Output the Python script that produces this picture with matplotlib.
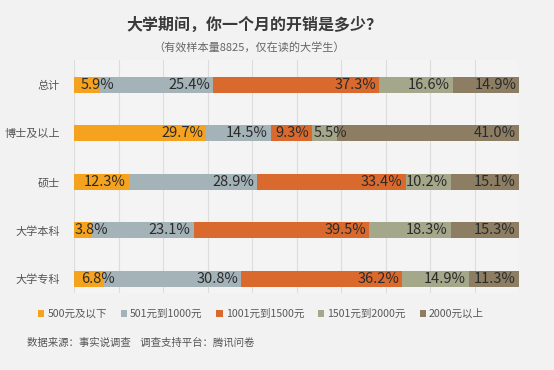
import matplotlib
matplotlib.use("Agg")
import matplotlib.pyplot as plt
from matplotlib.patches import Patch

plt.rcParams['font.family'] = ['Noto Sans CJK SC', 'DejaVu Sans']

categories = ["总计", "博士及以上", "硕士", "大学本科", "大学专科"]
series_names = ["500元及以下", "501元到1000元", "1001元到1500元", "1501元到2000元", "2000元以上"]
s_500 = [5.9, 29.7, 12.3, 3.8, 6.8]
s_1000 = [25.4, 14.5, 28.9, 23.1, 30.8]
s_1500 = [37.3, 9.3, 33.4, 39.5, 36.2]
s_2000 = [16.6, 5.5, 10.2, 18.3, 14.9]
s_over = [14.9, 41.0, 15.1, 15.3, 11.3]
series = [s_500, s_1000, s_1500, s_2000, s_over]
colors = ["#F5A31F", "#A4B3B8", "#D9692C", "#A5A78A", "#8C7D63"]

title = "大学期间，你一个月的开销是多少？"
subtitle = "（有效样本量8825，仅在读的大学生）"
source = "数据来源：事实说调查    调查支持平台：腾讯问卷"

W, H = 554, 370
fig = plt.figure(figsize=(W / 100, H / 100), dpi=100)
fig.patch.set_facecolor("#F2F2F2")
ax = fig.add_axes([74 / W, 1 - 293 / H, 445 / W, 233 / H])
ax.set_facecolor("#F4F4F4")

ypos = list(range(len(categories)))
px_per_unit = 445 / 100.0
left = [0.0] * len(categories)
for vals, col in zip(series, colors):
    ax.barh(ypos, vals, left=left, height=0.33, color=col, zorder=2)
    for i, v in enumerate(vals):
        lab = f"{v:.1f}%"
        w_units = (len(lab) * 8.0) / px_per_unit
        end = left[i] + v
        if v >= w_units + 0.5:
            ax.text(end - 0.7, i, lab, ha="right", va="center",
                    fontsize=10.5, color="#2B2B2B", zorder=3)
        else:
            x0 = max(left[i] + v / 2 - w_units / 2, 0.2) if left[i] == 0 else left[i] + 0.3
            if left[i] == 0 and v > 5:
                x0 = 1.5
            ax.text(x0, i, lab, ha="left", va="center",
                    fontsize=10.5, color="#2B2B2B", zorder=3)
    left = [l + v for l, v in zip(left, vals)]

ax.set_xlim(0, 100)
ax.set_ylim(4.29, -0.515)
ax.set_xticks(range(0, 101, 10))
ax.xaxis.grid(True, color="#DDDDDD", linewidth=0.8, zorder=0)
ax.tick_params(axis="x", length=0, labelbottom=False)
ax.tick_params(axis="y", length=0, pad=10)
ax.set_yticks(ypos)
ax.set_yticklabels(categories, fontsize=8, color="#555555")
for s in ax.spines.values():
    s.set_visible(False)

fig.text(0.46, 1 - 25 / H, title, ha="center", va="center",
         fontsize=11.5, fontweight="bold", color="#3A3A3A")
fig.text(0.449, 1 - 47 / H, subtitle, ha="center", va="center",
         fontsize=8, color="#666666")

handles = [Patch(facecolor=c, edgecolor="none") for c in colors]
leg = fig.legend(handles, series_names, loc="center", ncol=5,
                 bbox_to_anchor=(261 / W, 1 - 314 / H), frameon=False,
                 fontsize=7.6, handlelength=0.6, handleheight=0.6,
                 handletextpad=0.3, columnspacing=1.3)
for t in leg.get_texts():
    t.set_color("#595959")

fig.text(27 / W, 1 - 343 / H, source, ha="left", va="center",
         fontsize=7.5, color="#555555")

fig.savefig("out.png", dpi=100, facecolor=fig.get_facecolor())
